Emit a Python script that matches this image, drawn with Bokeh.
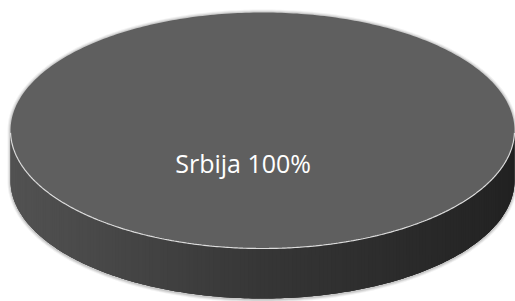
import numpy as np
from bokeh.plotting import figure
from bokeh.models import Range1d, ColumnDataSource
from bokeh.core.properties import value
from bokeh.embed import file_html
from bokeh.resources import INLINE

# ---- data ----
categories = ["Srbija"]
values = [100]
labels = ["Srbija 100%"]

# ---- geometry / style ----
W, H = 515, 301
CX, CY, A, B, D = 262.0, 130.0, 252.0, 118.0, 50.0
TOP_COLOR = "#5f5f5f"
SIDE_STOPS = [(0.0, 0x52), (0.5, 0x36), (1.0, 0x22)]

p = figure(width=W, height=H, output_backend="svg", toolbar_location=None,
           x_range=Range1d(0, W), y_range=Range1d(H, 0), min_border=0)
p.axis.visible = False
p.grid.visible = False
p.outline_line_color = None
p.background_fill_color = "white"
p.border_fill_color = "white"


def side_color(x):
    t = (x - (CX - A)) / (2 * A)
    t = min(max(t, 0.0), 1.0)
    for (t0, c0), (t1, c1) in zip(SIDE_STOPS[:-1], SIDE_STOPS[1:]):
        if t <= t1:
            c = c0 + (c1 - c0) * (t - t0) / (t1 - t0)
            break
    c = int(round(c))
    return "#%02x%02x%02x" % (c, c, c)


total = float(sum(values))
fracs = [v / total for v in values]
starts = np.cumsum([0.0] + fracs[:-1]) * 2 * np.pi
ends = np.cumsum(fracs) * 2 * np.pi

# ---- soft shadow around the whole disc ----
th_up = np.linspace(np.pi, 2 * np.pi, 200)
th_dn = np.linspace(0, np.pi, 200)
for grow, alpha in [(3.0, 0.05), (2.0, 0.07), (1.0, 0.10)]:
    sx = np.concatenate([CX + (A + grow) * np.cos(th_up), CX + (A + grow) * np.cos(th_dn)])
    sy = np.concatenate([CY + (B + grow) * np.sin(th_up), CY + D + 1 + (B + grow) * np.sin(th_dn)])
    p.patch(sx, sy, fill_color="black", fill_alpha=alpha, line_color=None)

# ---- side walls (front half), gradient strips drawn left to right, overlapping ----
xs, ys, cols = [], [], []
for s, e in zip(starts, ends):
    lo, hi = max(s, 0.0), min(e, np.pi)
    if hi <= lo:
        continue
    th = np.linspace(hi, lo, 200)  # left (pi) -> right (0)
    x = CX + A * np.cos(th)
    yt = CY + B * np.sin(th)
    n = len(th)
    for i in range(n - 1):
        j = min(i + 3, n - 1)
        seg = slice(i, j + 1)
        px = np.concatenate([x[seg], x[seg][::-1]])
        py = np.concatenate([yt[seg], (yt[seg] + D)[::-1]])
        xs.append(px)
        ys.append(py)
        cols.append(side_color(0.5 * (x[i] + x[i + 1])))
p.patches(xs=xs, ys=ys, fill_color=cols, line_color=None)

# ---- top faces ----
for s, e in zip(starts, ends):
    th = np.linspace(s, e, 400)
    tx = np.concatenate([[CX], CX + A * np.cos(th)])
    ty = np.concatenate([[CY], CY + B * np.sin(th)])
    p.patch(tx, ty, fill_color=TOP_COLOR, line_color=None)

# highlight along the front rim
th = np.linspace(0.02, np.pi - 0.02, 300)
p.line(CX + A * np.cos(th), CY + B * np.sin(th), line_color="#dcdcdc", line_width=1.2)

# ---- labels ----
lx, ly = [], []
for s, e in zip(starts, ends):
    if e - s >= 2 * np.pi - 1e-9:
        lx.append(CX - 0.077 * A)
        ly.append(CY + 0.275 * B)
    else:
        m = 0.5 * (s + e)
        lx.append(CX + 0.6 * A * np.cos(m))
        ly.append(CY + 0.6 * B * np.sin(m))
src = ColumnDataSource(dict(x=lx, y=ly, text=labels))
p.text(x="x", y="y", text="text", source=src, text_font=value("Open Sans"),
       text_font_size="25px", text_color="white", text_align="center",
       text_baseline="middle")

open("out.html", "w").write(file_html(p, INLINE))
